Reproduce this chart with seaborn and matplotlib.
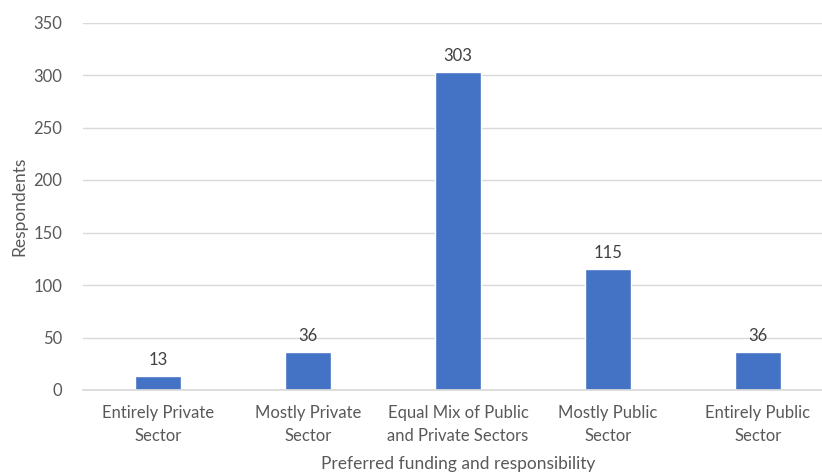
import matplotlib
matplotlib.use("Agg")
import matplotlib.pyplot as plt
import seaborn as sns
import pandas as pd

categories = ["Entirely Private\nSector", "Mostly Private\nSector",
              "Equal Mix of Public\nand Private Sectors", "Mostly Public\nSector",
              "Entirely Public\nSector"]
respondents = [13, 36, 303, 115, 36]

sns.set_theme(style="white")
plt.rcParams["font.family"] = ["Lato", "DejaVu Sans"]

df = pd.DataFrame({"cat": categories, "n": respondents})

fig = plt.figure(figsize=(8.22, 4.76), dpi=100)
ax = fig.add_axes([83 / 822, 86 / 476, 750 / 822, 367.5 / 476])

sns.barplot(data=df, x="cat", y="n", color="#4472C4", saturation=1,
            width=0.31, ax=ax)

txt = "#595959"
for i, v in enumerate(respondents):
    ax.annotate(str(v), (i, v), xytext=(0, 6), textcoords="offset points",
                ha="center", va="bottom", fontsize=12, color="#404040")

ax.set_ylim(0, 350)
ax.set_xlim(-0.5, 4.5)
ax.set_yticks(range(0, 351, 50))
ax.yaxis.grid(True, color="#D9D9D9", linewidth=1)
ax.set_axisbelow(True)
for s in ["top", "right", "left"]:
    ax.spines[s].set_visible(False)
ax.spines["bottom"].set_color("#D9D9D9")
ax.tick_params(axis="both", length=0, labelsize=12, labelcolor=txt)
ax.tick_params(axis="y", pad=15)
ax.tick_params(axis="x", pad=11)
for lbl in ax.get_xticklabels():
    lbl.set_linespacing(1.55)
ax.set_xlabel("Preferred funding and responsibility", fontsize=12.5, color=txt, labelpad=8)
ax.set_ylabel("Respondents", fontsize=12.5, color=txt, labelpad=4)

fig.savefig("out.png", dpi=100)
